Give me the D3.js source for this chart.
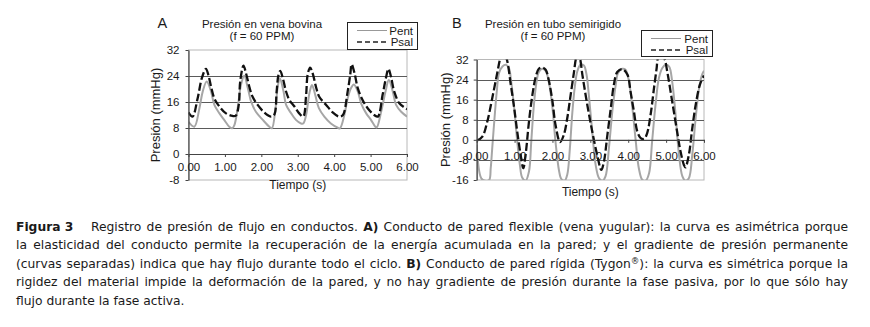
<!DOCTYPE html>
<html>
<head>
<meta charset="utf-8">
<script src="https://cdnjs.cloudflare.com/ajax/libs/d3/7.8.5/d3.min.js"></script>
<style>
  html, body { margin: 0; padding: 0; background: #fff; }
  svg { display: block; }
</style>
</head>
<body>
<div id="chart"></div>
<script>
// ---------------- DATA ----------------
const xTicks = [0, 1, 2, 3, 4, 5, 6];
const yTicksA = [-8, 0, 8, 16, 24, 32];
const yTicksB = [-16, -8, 0, 8, 16, 24, 32];
const seriesNames = ["Pent", "Psal"];

// Panel A: vena bovina  [tiempo (s), presión (mmHg)]
const aPent = [[0,9.9],[0.16,8.4],[0.30,14.1],[0.39,19.2],[0.50,22.3],[0.62,19.2],[0.71,15.1],[0.85,12.5],[0.98,10.5],[1.12,8.4],[1.20,7.9],[1.26,8.9],[1.35,14.1],[1.44,21.2],[1.53,24.1],[1.63,20.2],[1.72,16.1],[1.85,13.0],[2.04,10.5],[2.22,8.4],[2.29,7.9],[2.39,14.1],[2.45,20.7],[2.51,23.3],[2.61,19.2],[2.68,15.1],[2.82,12.5],[2.95,10.5],[3.09,9.4],[3.15,9.4],[3.23,12.0],[3.32,18.7],[3.39,21.2],[3.48,18.2],[3.58,14.1],[3.73,11.5],[3.91,9.4],[4.10,8.1],[4.16,7.9],[4.28,12.0],[4.37,17.1],[4.46,20.2],[4.54,21.4],[4.65,19.2],[4.74,15.6],[4.88,12.5],[5.01,10.5],[5.13,8.4],[5.17,8.2],[5.29,13.0],[5.41,19.2],[5.50,22.8],[5.61,19.2],[5.70,15.1],[5.84,13.0],[6.00,11.5]];
const aPsal = [[0,12.8],[0.11,11.5],[0.25,17.1],[0.37,23.5],[0.48,26.2],[0.55,24.1],[0.62,20.7],[0.71,17.1],[0.85,14.6],[1.03,12.5],[1.21,11.7],[1.30,11.8],[1.38,15.1],[1.42,22.3],[1.51,27.2],[1.58,24.8],[1.67,20.7],[1.76,17.6],[1.90,15.1],[2.08,12.8],[2.27,11.5],[2.36,12.2],[2.42,19.2],[2.47,24.3],[2.52,25.6],[2.59,23.3],[2.68,19.2],[2.77,16.6],[2.91,14.6],[3.04,12.5],[3.15,11.5],[3.23,18.2],[3.27,24.3],[3.34,26.6],[3.41,24.8],[3.50,20.7],[3.59,17.6],[3.78,15.1],[3.96,12.8],[4.14,11.5],[4.24,12.0],[4.37,19.2],[4.44,24.3],[4.48,27.6],[4.56,24.8],[4.65,20.2],[4.78,16.6],[4.92,14.1],[5.10,12.0],[5.20,11.5],[5.33,18.2],[5.42,23.3],[5.49,26.2],[5.56,23.8],[5.65,19.2],[5.79,15.6],[5.93,14.3],[6.00,13.8]];

// Panel B: tubo semirigido
const bPent = [[0,-2],[0.12,-15.3],[0.22,-16.3],[0.33,-16.0],[0.37,-11.3],[0.41,-3.3],[0.47,8.6],[0.53,19.3],[0.59,26.6],[0.68,29.2],[0.77,29.9],[0.85,28.6],[0.91,23.2],[0.99,12.6],[1.07,-0.7],[1.14,-10.0],[1.20,-15.0],[1.29,-16.3],[1.38,-12.6],[1.44,-0.7],[1.51,13.9],[1.58,23.2],[1.64,27.0],[1.73,28.3],[1.82,27.5],[1.91,22.6],[2.00,12.6],[2.08,-0.7],[2.17,-12.0],[2.23,-15.5],[2.32,-16.3],[2.39,-13.9],[2.46,-3.3],[2.52,10.0],[2.59,21.2],[2.66,27.5],[2.74,29.9],[2.83,29.6],[2.90,25.9],[2.96,17.9],[3.05,3.3],[3.14,-10.0],[3.23,-15.3],[3.32,-16.3],[3.40,-14.6],[3.49,-3.3],[3.58,11.3],[3.67,21.9],[3.73,26.6],[3.84,28.3],[3.93,27.9],[4.02,23.2],[4.11,12.6],[4.20,-0.7],[4.28,-11.3],[4.37,-15.9],[4.46,-16.3],[4.55,-13.3],[4.63,-0.7],[4.72,13.9],[4.81,24.6],[4.90,28.6],[4.99,29.9],[5.08,29.2],[5.16,23.2],[5.25,10.0],[5.34,-6.0],[5.43,-14.6],[5.51,-16.3],[5.60,-15.3],[5.69,-6.0],[5.78,8.6],[5.87,20.6],[5.95,26.0],[6.00,27.5]];
const bPsal = [[0,-0.4],[0.15,1.3],[0.28,7.3],[0.41,16.6],[0.55,27.2],[0.62,32.3],[0.70,35.0],[0.79,32.3],[0.90,21.9],[0.99,12.6],[1.07,3.3],[1.16,-6.0],[1.23,-11.3],[1.29,-6.0],[1.38,7.3],[1.47,17.9],[1.56,25.2],[1.64,28.3],[1.73,28.8],[1.82,27.9],[1.91,23.2],[2.00,15.3],[2.08,6.0],[2.20,-0.9],[2.30,2.0],[2.39,8.6],[2.48,17.9],[2.57,27.2],[2.62,32.3],[2.68,34.5],[2.73,32.3],[2.79,25.9],[2.92,13.9],[3.05,3.3],[3.18,-6.0],[3.29,-12.0],[3.36,-8.6],[3.45,2.0],[3.54,12.6],[3.62,21.9],[3.71,27.0],[3.84,28.2],[3.98,25.9],[4.06,19.3],[4.15,11.3],[4.24,3.3],[4.33,0.7],[4.42,0.4],[4.50,2.7],[4.59,10.0],[4.68,20.6],[4.75,28.6],[4.78,32.3],[4.87,35.0],[4.96,32.3],[5.03,27.2],[5.16,15.3],[5.29,3.3],[5.38,-4.6],[5.47,-10.0],[5.51,-11.0],[5.60,-6.0],[5.69,4.6],[5.78,13.9],[5.89,21.9],[6.00,25.6]];

const captionLabel = "Figura 3";
const captionLines = [
  [["Registro de presión de flujo en conductos. ", "n"], ["A)", "b"], [" Conducto de pared flexible (vena yugular): la curva es asimétrica porque", "n"]],
  [["la elasticidad del conducto permite la recuperación de la energía acumulada en la pared; y el gradiente de presión permanente", "n"]],
  [["(curvas separadas) indica que hay flujo durante todo el ciclo. ", "n"], ["B)", "b"], [" Conducto de pared rígida (Tygon", "n"], ["®", "s"], ["): la curva es simétrica porque la", "n"]],
  [["rigidez del material impide la deformación de la pared, y no hay gradiente de presión durante la fase pasiva, por lo que sólo hay", "n"]],
  [["flujo durante la fase activa.", "n"]]
];

// ---------------- DRAW ----------------
const W = 870, H = 327;
const svg = d3.select("#chart").append("svg").attr("width", W).attr("height", H);
svg.append("rect").attr("width", W).attr("height", H).attr("fill", "#fff");

const chartFont = "'Liberation Sans', Arial, sans-serif";

function panel(cfg) {
  const g = svg.append("g");
  const x = d3.scaleLinear().domain([0, 6]).range(cfg.xr);
  const y = d3.scaleLinear().domain(cfg.yd).range(cfg.yr);
  const id = "clip" + cfg.letter;
  svg.append("clipPath").attr("id", id).append("rect")
    .attr("x", cfg.xr[0]).attr("y", cfg.yr[1])
    .attr("width", cfg.xr[1] - cfg.xr[0]).attr("height", cfg.yr[0] - cfg.yr[1]);

  // frame
  g.append("rect").attr("x", cfg.xr[0]).attr("y", cfg.yr[1])
    .attr("width", cfg.xr[1] - cfg.xr[0]).attr("height", cfg.yr[0] - cfg.yr[1])
    .attr("fill", "#fff").attr("stroke", "#b8b8b8").attr("stroke-width", 1);

  // grid
  g.append("g").selectAll("line")
    .data(cfg.yt.filter(v => v !== 0 && v !== cfg.yd[0] && v !== cfg.yd[1]))
    .join("line")
    .attr("x1", cfg.xr[0]).attr("x2", cfg.xr[1])
    .attr("y1", d => Math.round(y(d)) + 0.5).attr("y2", d => Math.round(y(d)) + 0.5)
    .attr("stroke", "#5a5a5a").attr("stroke-width", 1.2);

  // series
  const line = d3.line().x(d => x(d[0])).y(d => y(d[1])).curve(d3.curveCatmullRom.alpha(0.5));
  const lg = g.append("g").attr("clip-path", `url(#${id})`);
  lg.append("path").datum(cfg.pent).attr("d", line)
    .attr("fill", "none").attr("stroke", "#a6a6a6").attr("stroke-width", 2);
  lg.append("path").datum(cfg.psal).attr("d", line)
    .attr("fill", "none").attr("stroke", "#111").attr("stroke-width", 2.3)
    .attr("stroke-dasharray", "8,3");

  // y axis
  const ya = g.append("g").attr("transform", `translate(${cfg.xr[0]},0)`)
    .call(d3.axisLeft(y).tickValues(cfg.yt).tickFormat(d => String(d)).tickSize(3).tickSizeOuter(0).tickPadding(cfg.yPad));
  // x axis at zero
  const xa = g.append("g").attr("transform", `translate(0,${y(0)})`)
    .call(d3.axisBottom(x).tickValues(xTicks).tickFormat(d => d.toFixed(2)).tickSize(3).tickSizeOuter(0).tickPadding(cfg.xPad));
  [ya, xa].forEach(a => {
    a.select(".domain").attr("stroke", "#444").attr("stroke-width", 1.2);
    a.selectAll(".tick line").attr("stroke", "#444");
    a.selectAll("text").attr("font-family", chartFont).attr("font-size", 11.5).attr("fill", "#1a1a1a");
  });

  // axis titles
  g.append("text").attr("transform", `translate(${cfg.ytx},${(cfg.yr[0] + cfg.yr[1]) / 2}) rotate(-90)`)
    .attr("text-anchor", "middle").attr("font-family", chartFont).attr("font-size", 13).attr("fill", "#1a1a1a")
    .text("Presión (mmHg)");
  g.append("text").attr("x", (cfg.xr[0] + cfg.xr[1]) / 2).attr("y", cfg.xty)
    .attr("text-anchor", "middle").attr("font-family", chartFont).attr("font-size", 12).attr("fill", "#1a1a1a")
    .text("Tiempo (s)");

  // panel letter & title
  g.append("text").attr("x", cfg.lx).attr("y", 28).attr("font-family", chartFont).attr("font-size", 14.5)
    .attr("fill", "#1a1a1a").text(cfg.letter);
  cfg.title.forEach((t, i) => {
    g.append("text").attr("x", cfg.tx).attr("y", 27.5 + i * 12.5).attr("text-anchor", "middle")
      .attr("font-family", chartFont).attr("font-size", 11.5).attr("fill", "#1a1a1a").text(t);
  });

  // legend
  const L = cfg.leg;
  g.append("rect").attr("x", L.x + 0.5).attr("y", L.y + 0.5).attr("width", L.w).attr("height", L.h)
    .attr("fill", "#fff").attr("stroke", "#222").attr("stroke-width", 1);
  seriesNames.forEach((name, i) => {
    const ly = L.y + 8.5 + i * 11.5;
    g.append("line").attr("x1", L.x + 10).attr("x2", L.x + 40).attr("y1", ly).attr("y2", ly)
      .attr("stroke", i === 0 ? "#999" : "#222").attr("stroke-width", i === 0 ? 1 : 1.3)
      .attr("stroke-dasharray", i === 0 ? null : "5,3");
    g.append("text").attr("x", L.x + L.w - 4).attr("y", ly + 4).attr("text-anchor", "end")
      .attr("font-family", chartFont).attr("font-size", 11.5).attr("fill", "#1a1a1a").text(name);
  });
}

panel({
  letter: "A", xr: [188.5, 407], yd: [-8, 32], yr: [180, 50], yt: yTicksA,
  pent: aPent, psal: aPsal, yPad: 6, xPad: 6, ytx: 160, xty: 188.5,
  lx: 157.5, tx: 262, title: ["Presión en vena bovina", "(f = 60 PPM)"],
  leg: { x: 347, y: 22, w: 70, h: 27 }
});
panel({
  letter: "B", xr: [476.7, 704], yd: [-16, 32], yr: [180, 59.5], yt: yTicksB,
  pent: bPent, psal: bPsal, yPad: 5, xPad: 9, ytx: 449.5, xty: 195.5,
  lx: 452, tx: 553, title: ["Presión en tubo semirigido", "(f = 60 PPM)"],
  leg: { x: 641, y: 30, w: 71, h: 26 }
});

// ---------------- CAPTION ----------------
const capFont = "'DejaVu Sans', Verdana, sans-serif";
const capSize = 12.3;
const capLeft = 16, capRight = 848, capIndent = 91, baseY = 230.5, lineH = 18.5;

svg.append("text").attr("x", capLeft).attr("y", baseY).attr("font-family", capFont)
  .attr("font-size", capSize).attr("font-weight", "bold").attr("fill", "#1a1a1a").text(captionLabel);

captionLines.forEach((segs, i) => {
  const x0 = i === 0 ? capIndent : capLeft;
  const t = svg.append("text").attr("x", x0).attr("y", baseY + i * lineH)
    .attr("font-family", capFont).attr("font-size", capSize).attr("fill", "#1a1a1a");
  segs.forEach(([s, k], j) => {
    const ts = t.append("tspan").text(s);
    if (k === "b") ts.attr("font-weight", "bold");
    if (k === "s") ts.attr("font-size", capSize * 0.7).attr("dy", -4);
    if (j > 0 && segs[j - 1][1] === "s") ts.attr("dy", 4);
  });
  if (i < captionLines.length - 1) {
    const natural = t.node().getComputedTextLength();
    const full = segs.map(s => s[0]).join("");
    const nSpaces = (full.match(/ /g) || []).length;
    const target = capRight - x0;
    if (nSpaces > 0) t.attr("word-spacing", (target - natural) / nSpaces);
  }
});
</script>
</body>
</html>
